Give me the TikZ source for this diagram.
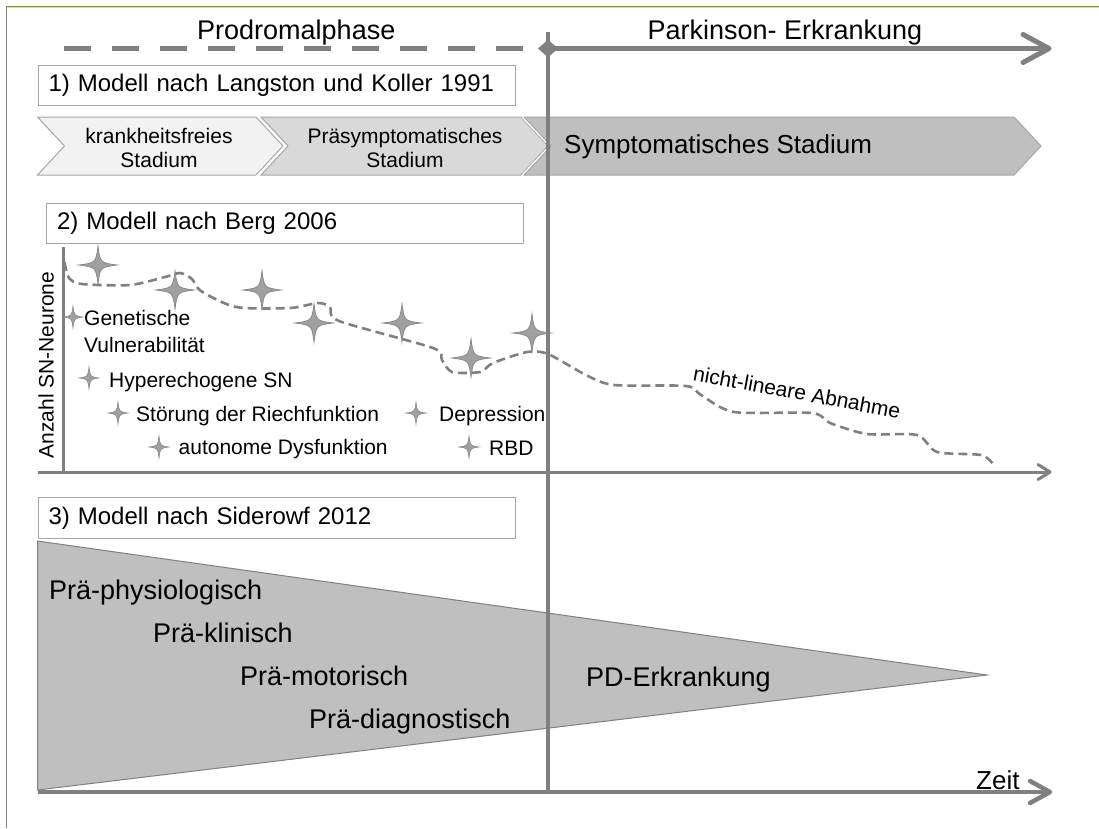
\documentclass[tikz,border=0pt]{standalone}
\usepackage{fontspec}
\setmainfont{Liberation Sans}
\usetikzlibrary{shapes.geometric,calc}
\definecolor{lgray}{HTML}{808080}
\definecolor{bordc}{HTML}{A6A6A6}
\definecolor{chevA}{HTML}{F2F2F2}
\definecolor{chevB}{HTML}{D9D9D9}
\definecolor{chevC}{HTML}{BFBFBF}
\definecolor{starfill}{HTML}{A0A0A0}
\definecolor{stardraw}{HTML}{8A8A8A}
\definecolor{frameyel}{HTML}{E6E65A}
\newcommand\fsTitle{\fontsize{27}{32}\selectfont}
\newcommand\fsBox{\fontsize{24}{28}\selectfont}
\newcommand\fsChev{\fontsize{21}{24}\selectfont}
\newcommand\fsLeg{\fontsize{21}{25}\selectfont}
\begin{document}
\begin{tikzpicture}[x=1pt,y=-1pt,
  axisline/.style={draw=lgray, line width=3pt},
  boldline/.style={draw=lgray, line width=5pt},
  headline/.style={draw=lgray, line cap=round, line join=round},
  titlebox/.style={draw=bordc, line width=1pt, fill=white, anchor=north west,
     minimum height=40pt, text width=456pt, align=left, inner xsep=10.5pt, inner ysep=0pt, font=\fsBox},
  chevshape/.style={draw=bordc, line width=1pt},
  plain/.style={inner sep=0pt, font=\fsLeg},
  pics/bigstar/.style={code={\filldraw[fill=starfill, draw=stardraw, line width=0.8pt]
     (0,-19) .. controls (2.2,-2.2) .. (19,0) .. controls (2.2,2.2) .. (0,19)
     .. controls (-2.2,2.2) .. (-19,0) .. controls (-2.2,-2.2) .. (0,-19) -- cycle;}},
  pics/smallstar/.style={code={\filldraw[fill=starfill, draw=stardraw, line width=0.6pt]
     (0,-11) .. controls (1.2,-1.2) .. (10,0) .. controls (1.2,1.2) .. (0,11)
     .. controls (-1.2,1.2) .. (-10,0) .. controls (-1.2,-1.2) .. (0,-11) -- cycle;}}
]
\useasboundingbox (0,0) rectangle (1099,828);
\fill[white] (0,0) rectangle (1099,828);

% frame
\draw[frameyel, line width=0.8pt] (7,7.8) -- (1099,7.8);
\draw[lgray, line width=1.2pt] (6.5,828) -- (6.5,6.5) -- (1099,6.5);

% ---------- top phases ----------
\coordinate (pd0) at (63.5,48.5);
\coordinate (pd1) at (523,48.5);
\draw[boldline, dash pattern=on 27pt off 21pt] (pd0) -- (pd1);
\coordinate (pk1) at (1049,48.5);
\node[diamond, fill=lgray, inner sep=0pt, minimum width=20pt, minimum height=18pt] (dia) at (548,48.5) {};
\draw[boldline] (dia.center) -- ($(pk1)+(-2,0)$);
\draw[headline, line width=5pt] (pk1) ++(-26,-14) -- (pk1) -- ++(-26,14);
\node[plain, font=\fsTitle, anchor=base west] (prod) at (197,39) {Prodromalphase};
\node[plain, font=\fsTitle, anchor=base] (park) at (785,39) {Parkinson- Erkrankung};

% ---------- 1) Langston ----------
\node[titlebox, minimum width=477pt] (m1) at (37.5,65) {1) Modell nach Langston und Koller 1991};

\draw[chevshape, fill=chevA] (37.5,117) -- (256,117) -- (283,146) -- (256,175) -- (37.5,175) -- (64.5,146) -- cycle;
\draw[chevshape, fill=chevB] (261,117) -- (521,117) -- (548,146) -- (521,175) -- (261,175) -- (288,146) -- cycle;
\draw[chevshape, fill=chevC] (524,117) -- (1014,117) -- (1041,146) -- (1014,175) -- (524,175) -- (551,146) -- cycle;
\draw[white, line width=1pt] (522.5,117.5) -- (549.5,146) -- (522.5,174.5);
\node[plain, font=\fsChev, align=center] (c1) at (159,148) {krankheitsfreies\\Stadium};
\node[plain, font=\fsChev, align=center] (c2) at (405,148) {Präsymptomatisches\\Stadium};
\node[plain, font=\fontsize{26}{30}\selectfont, anchor=west] (c3) at (564,147) {Symptomatisches Stadium};

% ---------- 2) Berg ----------
\node[titlebox, minimum width=477pt] (m2) at (46,203) {2) Modell nach Berg 2006};
\coordinate (yax0) at (63.5,247);
\coordinate (orig) at (63.5,472);
\coordinate (xax0) at (37.5,472);
\coordinate (xax1) at (1050,472);
\draw[axisline] (yax0) -- (orig);
\draw[axisline] (xax0) -- ($(xax1)+(-1.5,0)$);
\draw[headline, line width=3pt] (xax1) ++(-12,-7.5) -- (xax1) -- ++(-12,7.5);
\node[plain, rotate=90] (ylab) at (46,365) {Anzahl SN-Neurone};

\draw[lgray, line width=2.6pt, dash pattern=on 9pt off 5pt]
  plot[smooth, tension=0.45] coordinates {
  (64.5,262) (69,278) (82,284) (130,285) (165,277) (180,273) (192,279) (201,291)
  (236,307) (290,308) (318,303) (330,307) (339,321) (433,348) (442,360) (452,372)
  (480,372) (493,363) (527,352) (548,354) (586,375) (614,385) (686,386) (701,395)
  (734,412) (812,413) (830,423) (867,434) (917,435) (937,452) (981,455) (993,464)};
\node[plain, rotate=-10.5] (nla) at (797,392) {nicht-lineare Abnahme};

\pic at (98,265) {bigstar};
\pic at (175,290) {bigstar};
\pic at (262,290) {bigstar};
\pic at (314,323) {bigstar};
\pic at (402,323) {bigstar};
\pic at (471,358) {bigstar};
\pic at (532,333) {bigstar};

\pic at (73,317) {smallstar};
\pic at (89,378) {smallstar};
\pic at (118,413) {smallstar};
\pic at (416,413) {smallstar};
\pic at (159,447) {smallstar};
\pic at (469,447) {smallstar};
\node[plain, anchor=base west, align=left] (l1) at (84,325) {Genetische};
\node[plain, anchor=base west] (l1b) at (84,352) {Vulnerabilität};
\node[plain, anchor=base west] (l2) at (109,387) {Hyperechogene SN};
\node[plain, anchor=base west] (l3) at (136,421) {Störung der Riechfunktion};
\node[plain, anchor=base west] (l4) at (439,421) {Depression};
\node[plain, anchor=base west] (l5) at (178.5,454) {autonome Dysfunktion};
\node[plain, anchor=base west] (l6) at (489,455) {RBD};

% ---------- 3) Siderowf ----------
\node[titlebox, minimum width=476.5pt, minimum height=41pt] (m3) at (37.5,497) {3) Modell nach Siderowf 2012};
\coordinate (tri1) at (37.5,541);
\coordinate (tri2) at (987,675);
\coordinate (tri3) at (37.5,790);
\filldraw[fill=chevC, draw=lgray, line width=1pt] (tri1) -- (tri2) -- (tri3) -- cycle;
\coordinate (bx0) at (37.5,792);
\coordinate (bx1) at (1050,792);
\draw[draw=lgray, line width=4.5pt] (bx0) -- ($(bx1)+(-2,0)$);
\draw[headline, line width=4.5pt] (bx1) ++(-20,-11) -- (bx1) -- ++(-20,11);
\node[plain, font=\fsTitle, anchor=base west] (s1) at (49,599) {Prä-physiologisch};
\node[plain, font=\fsTitle, anchor=base west] (s2) at (153,642) {Prä-klinisch};
\node[plain, font=\fsTitle, anchor=base west] (s3) at (240,685) {Prä-motorisch};
\node[plain, font=\fsTitle, anchor=base west] (s4) at (309,728) {Prä-diagnostisch};
\node[plain, font=\fsTitle, anchor=base west] (pd) at (586,686) {PD-Erkrankung};
\node[plain, font=\fontsize{26}{30}\selectfont, anchor=base west] (zeit) at (976,789) {Zeit};

% vertical separator on top
\draw[lgray, line width=3.5pt] (548,32) -- (548,792);
\end{tikzpicture}
\end{document}
